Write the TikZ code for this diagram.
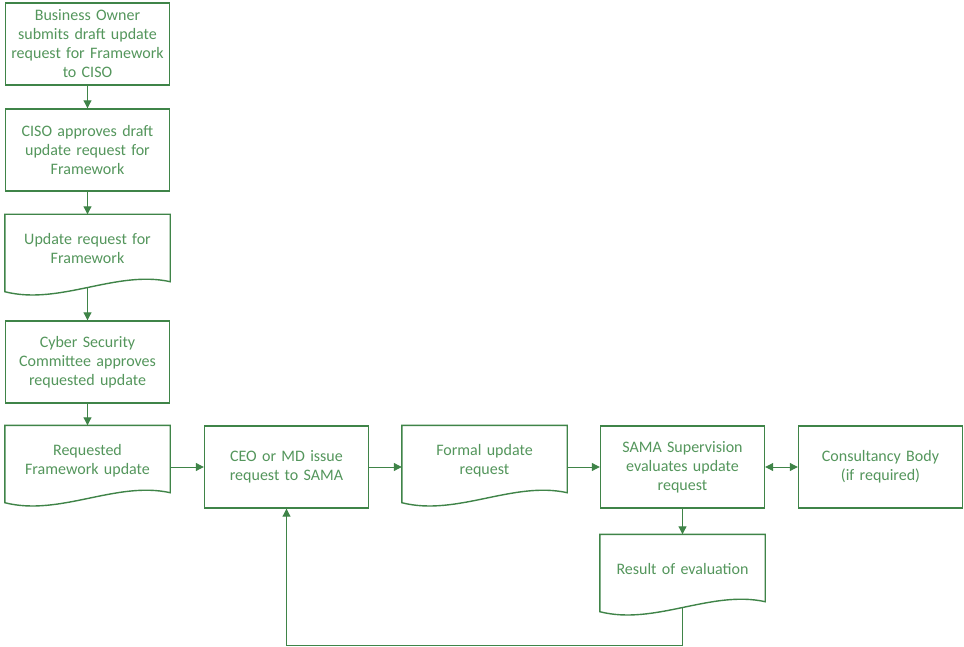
\documentclass[tikz,border=0pt]{standalone}
\usepackage{fontspec}
\setmainfont{Carlito}
\usetikzlibrary{positioning}
\usetikzlibrary{arrows.meta}
\definecolor{boxgreen}{RGB}{63,132,72}
\definecolor{txtgreen}{RGB}{84,150,92}
\tikzset{
  proc/.style={draw=boxgreen, line width=1.4pt, fill=white, text=txtgreen,
    minimum width=164pt, minimum height=82pt, text width=158pt,
    inner xsep=3pt, align=center, font=\fontsize{16}{19}\selectfont},
  doc/.style={proc, draw=none},
  link/.style={draw=boxgreen, line width=1pt, >={Triangle[length=8pt,width=8pt]}, ->},
}
\newcommand\lift[1]{\raisebox{1pt}[0pt][0pt]{\begin{tabular}{@{}c@{}}#1\end{tabular}}}
\newcommand\docedge[1]{\draw[boxgreen, line width=1.4pt] (#1.north west) -- (#1.north east)
  -- ([yshift=16pt]#1.south east) .. controls +(-54pt,12pt) and +(55pt,-14pt) .. ([yshift=6pt]#1.south west) -- cycle;}

\begin{document}
\begin{tikzpicture}
    \useasboundingbox (0,0) rectangle (964pt,-647pt);

        % Define nodes
        \node[proc] (1) at (87.5pt,-44pt) {Business Owner\\submits draft update\\request for Framework\\to CISO};
        \node[proc, below=22.6pt of 1]   (2) {CISO approves draft\\update request for\\Framework};
        \node[doc, below=22.6pt of 2]    (3) {\lift{Update request for\\Framework}};
        \node[proc, below=22.6pt of 3]   (4) {Cyber Security\\Committee approves\\requested update};
        \node[doc, below=21.6pt of 4]    (5) {\lift{Requested\\Framework update}};
        \node[proc, right=33.6pt of 5]   (6) {CEO or MD issue\\request to SAMA};
        \node[doc, right=32.6pt of 6]    (7) {\lift{Formal update\\request}};
        \node[proc, right=32.6pt of 7]   (8) {SAMA Supervision\\evaluates update\\request};
        \node[proc, right=32.6pt of 8]   (9) {Consultancy Body\\(if required)};
        \node[doc, below=25.6pt of 8]    (10) {\lift{Result of evaluation}};

        % Document outlines
        \docedge{3}
        \docedge{5}
        \docedge{7}
        \docedge{10}

        % Connect the nodes
        \draw[link] (1.south) -- (2.north);
        \draw[link] (2.south) -- (3.north);
        \draw[link] ([yshift=10pt]3.south) -- (4.north);
        \draw[link] (4.south) -- (5.north);
        \draw[link] (5.east) -- (6.west);
        \draw[link] (6.east) -- (7.west);
        \draw[link] (7.east) -- (8.west);
        \draw[link, <->] (8.east) -- (9.west);
        \draw[link] (8.south) -- (10.north);
        \coordinate[below=28pt of 10.south] (back);
        \draw[link] ([yshift=10pt]10.south) -- (back) -| (6.south);
      \end{tikzpicture}
\end{document}
